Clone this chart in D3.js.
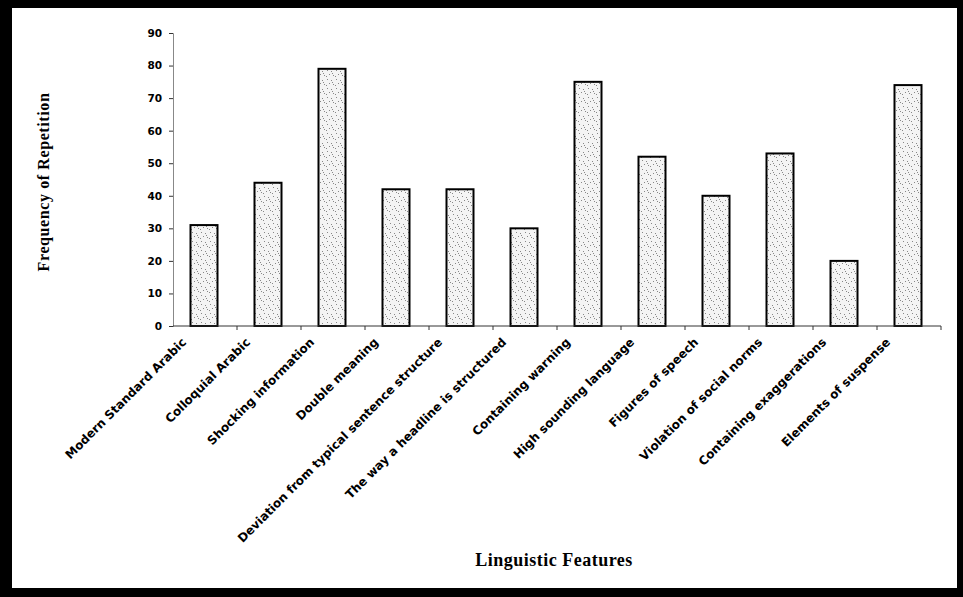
<!DOCTYPE html>
<html>
<head>
<meta charset="utf-8">
<script src="https://cdn.jsdelivr.net/npm/d3@7"></script>
<style>
  body { margin: 0; background: #fff; }
</style>
</head>
<body>
<div id="chart"></div>
<script>
const categories = ['Modern Standard Arabic', 'Colloquial Arabic', 'Shocking information', 'Double meaning',
    'Deviation from typical sentence structure', 'The way a headline is structured', 'Containing warning',
    'High sounding language', 'Figures of speech', 'Violation of social norms', 'Containing exaggerations',
    'Elements of suspense'];
const values = [31, 44, 79, 42, 42, 30, 75, 52, 40, 53, 20, 74];
const yTicks = [0, 10, 20, 30, 40, 50, 60, 70, 80, 90];

const W = 963, H = 597;
const margin = { top: 33, right: 22, bottom: 271, left: 173 };
const width = W - margin.left - margin.right;
const height = H - margin.top - margin.bottom;

const svg = d3.select('#chart')
    .append('svg')
    .attr('width', W)
    .attr('height', H);

// stipple pattern for bars
const defs = svg.append('defs');
const pat = defs.append('pattern')
    .attr('id', 'stipple')
    .attr('width', 9)
    .attr('height', 9)
    .attr('patternUnits', 'userSpaceOnUse');
pat.append('rect').attr('width', 9).attr('height', 9).attr('fill', '#f4f4f4');
[[1, 1], [5, 2], [3, 5], [7, 6], [0, 7], [6, 4]].forEach(p => {
    pat.append('rect').attr('x', p[0]).attr('y', p[1]).attr('width', 1).attr('height', 1).attr('fill', '#888');
});

// frame: black sheet with white inner panel
svg.append('rect')
    .attr('width', W).attr('height', H)
    .attr('fill', '#000');
svg.append('rect')
    .attr('x', 12).attr('y', 8)
    .attr('width', W - 18).attr('height', H - 17)
    .attr('fill', '#fff');

const g = svg.append('g')
    .attr('transform', `translate(${margin.left},${margin.top})`);

const xScale = d3.scaleBand()
    .domain(categories)
    .range([0, width]);

const yScale = d3.scaleLinear()
    .domain([0, 90])
    .range([height, 0]);

const barW = 27;

// bars
g.selectAll('.bar')
    .data(values)
    .enter()
    .append('rect')
    .attr('class', 'bar')
    .attr('x', (d, i) => xScale(categories[i]) + xScale.bandwidth() / 2 - barW / 2 - 1)
    .attr('y', d => yScale(d))
    .attr('width', barW)
    .attr('height', d => height - yScale(d))
    .attr('fill', 'url(#stipple)')
    .attr('stroke', '#000')
    .attr('stroke-width', 2);

// y axis
const yAxis = g.append('g')
    .call(d3.axisLeft(yScale).tickValues(yTicks).tickSize(4).tickPadding(7));
yAxis.select('.domain').attr('stroke', '#888');
yAxis.selectAll('line').attr('stroke', '#333');
yAxis.selectAll('text')
    .style('font-family', '"DejaVu Sans", sans-serif')
    .style('font-weight', 'bold')
    .style('font-size', '10.5px')
    .attr('fill', '#000');

// x axis: ticks between categories
const xAxis = g.append('g')
    .attr('transform', `translate(0,${height})`);
xAxis.append('line')
    .attr('x1', 0).attr('x2', width)
    .attr('stroke', '#333');
xAxis.selectAll('.sep')
    .data(categories)
    .enter()
    .append('line')
    .attr('x1', d => xScale(d) + xScale.bandwidth())
    .attr('x2', d => xScale(d) + xScale.bandwidth())
    .attr('y1', 0).attr('y2', 4)
    .attr('stroke', '#333');
xAxis.selectAll('.lbl')
    .data(categories)
    .enter()
    .append('text')
    .attr('transform', d => `translate(${xScale(d) + xScale.bandwidth() / 2 - 21},${14}) rotate(-45)`)
    .attr('dy', '0.35em')
    .attr('text-anchor', 'end')
    .style('font-family', '"DejaVu Sans", sans-serif')
    .style('font-weight', 'bold')
    .style('font-size', '12px')
    .text(d => d);

// axis titles
svg.append('text')
    .attr('transform', `translate(49,182) rotate(-90)`)
    .attr('text-anchor', 'middle')
    .style('font-family', '"Liberation Serif", "Times New Roman", serif')
    .style('font-weight', 'bold')
    .style('font-size', '16px')
    .style('letter-spacing', '0.6px')
    .text('Frequency of Repetition');

svg.append('text')
    .attr('x', 554)
    .attr('y', 566)
    .attr('text-anchor', 'middle')
    .style('font-family', '"Liberation Serif", "Times New Roman", serif')
    .style('font-weight', 'bold')
    .style('font-size', '18px')
    .style('letter-spacing', '0.5px')
    .text('Linguistic Features');
</script>
</body>
</html>
